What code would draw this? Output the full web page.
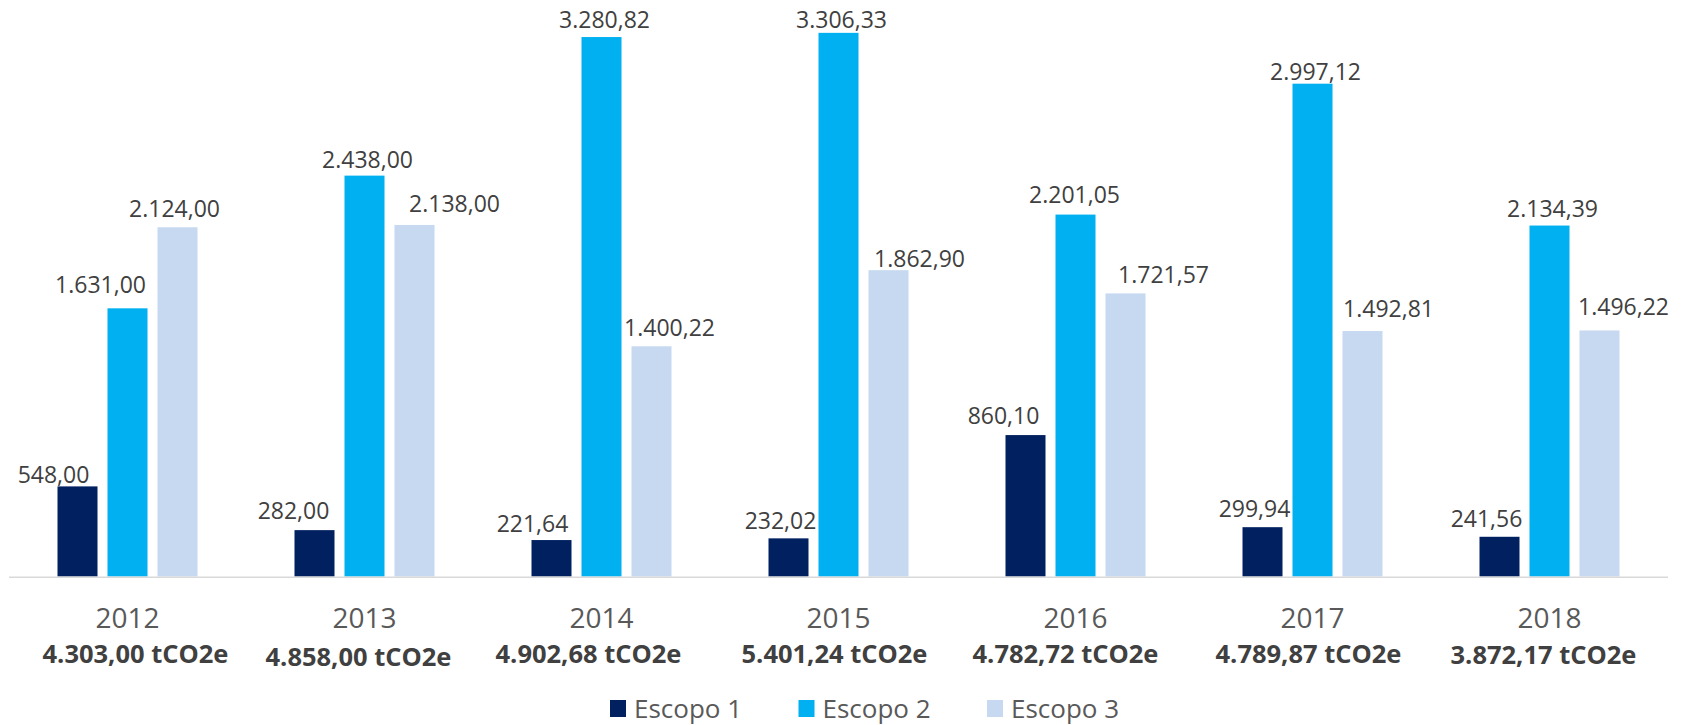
<!DOCTYPE html>
<html>
<head>
<meta charset="utf-8">
<script src="https://cdn.jsdelivr.net/npm/d3@7"></script>
<style>
  html, body { margin: 0; padding: 0; background: #fff; }
  svg { display: block; }
</style>
</head>
<body>
<div id="chart"></div>
<script>
// values
var years = ["2012", "2013", "2014", "2015", "2016", "2017", "2018"];
var series = ["Escopo 1", "Escopo 2", "Escopo 3"];
var escopo1 = [548.00, 282.00, 221.64, 232.02, 860.10, 299.94, 241.56];
var escopo2 = [1631.00, 2438.00, 3280.82, 3306.33, 2201.05, 2997.12, 2134.39];
var escopo3 = [2124.00, 2138.00, 1400.22, 1862.90, 1721.57, 1492.81, 1496.22];
var totals = [4303.00, 4858.00, 4902.68, 5401.24, 4782.72, 4789.87, 3872.17];

var colors = ["#002060", "#00b0f0", "#c6d9f1"];

// hand-moved data labels in the original: [dx, gap above bar]
var labelNudge = [
  [[-24, 3], [-21, 11], [-19, 8], [-8, 9], [-22, 11], [-8, 10], [-13, 10]],
  [[-27, 15], [3, 8], [3, 9], [3, 5], [-1, 12], [3, 4], [3, 9]],
  [[-3, 10], [40, 13], [18, 10], [31, 3], [38, 10], [26, 14], [24, 15]]
];
var totalNudge = [[8, 0], [-6, 3], [-13, 0], [-4, 0], [-10, 0], [-4, 0], [-6, 1]];

var width = 1686;
var height = 725;
var margin = { top: 1, left: 9, right: 18, baseline: 576.5 };

var fmt = d3.formatLocale({
  decimal: ",",
  thousands: ".",
  grouping: [3],
  currency: ["", ""]
}).format(",.2f");

var values = [escopo1, escopo2, escopo3];

var svg = d3
  .select("#chart")
  .append("svg")
  .attr("width", width)
  .attr("height", height)
  .style("font-family", "'Open Sans', sans-serif");

var x0 = d3
  .scaleBand()
  .domain(years)
  .range([margin.left, width - margin.right]);

var x1 = d3
  .scaleBand()
  .domain(series)
  .range([(x0.bandwidth() - 140) / 2, (x0.bandwidth() + 140) / 2])
  .paddingInner(0.2);

var y = d3
  .scaleLinear()
  .domain([0, 3500])
  .range([margin.baseline, margin.top]);

var groups = svg
  .selectAll(".year")
  .data(years)
  .enter()
  .append("g")
  .attr("class", "year")
  .attr("transform", d => `translate(${x0(d)},0)`);

groups
  .selectAll("rect")
  .data((d, i) => series.map((s, k) => ({ s: s, k: k, i: i, v: values[k][i] })))
  .enter()
  .append("rect")
  .attr("x", d => x1(d.s))
  .attr("width", x1.bandwidth())
  .attr("y", d => y(d.v))
  .attr("height", d => y(0) - y(d.v))
  .attr("fill", d => colors[d.k]);

groups
  .selectAll(".val")
  .data((d, i) => series.map((s, k) => ({ s: s, k: k, i: i, v: values[k][i] })))
  .enter()
  .append("text")
  .attr("class", "val")
  .attr("x", d => x1(d.s) + x1.bandwidth() / 2 + labelNudge[d.k][d.i][0])
  .attr("y", d => y(d.v) - labelNudge[d.k][d.i][1])
  .attr("text-anchor", "middle")
  .attr("font-size", "23px")
  .attr("fill", "#404040")
  .text(d => fmt(d.v));

// baseline
svg
  .append("line")
  .attr("x1", margin.left)
  .attr("x2", width - margin.right)
  .attr("y1", y(0) + 0.7)
  .attr("y2", y(0) + 0.7)
  .attr("stroke", "#d9d9d9")
  .attr("stroke-width", 1.6);

// category labels
groups
  .append("text")
  .attr("x", x0.bandwidth() / 2)
  .attr("y", 628)
  .attr("text-anchor", "middle")
  .attr("font-size", "28px")
  .attr("fill", "#595959")
  .text(d => d);

groups
  .append("text")
  .attr("x", (d, i) => x0.bandwidth() / 2 + totalNudge[i][0])
  .attr("y", (d, i) => 663 + totalNudge[i][1])
  .attr("text-anchor", "middle")
  .attr("font-size", "25.5px")
  .attr("font-weight", "bold")
  .attr("fill", "#404040")
  .text((d, i) => fmt(totals[i]) + " tCO2e");

// legend
var legend = svg
  .selectAll(".legend")
  .data(series)
  .enter()
  .append("g")
  .attr("class", "legend")
  .attr("transform", (d, i) => `translate(${610 + i * 188.5},700)`);

legend
  .append("rect")
  .attr("width", 16)
  .attr("height", 17)
  .attr("fill", (d, i) => colors[i]);

legend
  .append("text")
  .attr("x", 24)
  .attr("y", 17.5)
  .attr("font-size", "26px")
  .attr("fill", "#595959")
  .text(d => d);
</script>
</body>
</html>
